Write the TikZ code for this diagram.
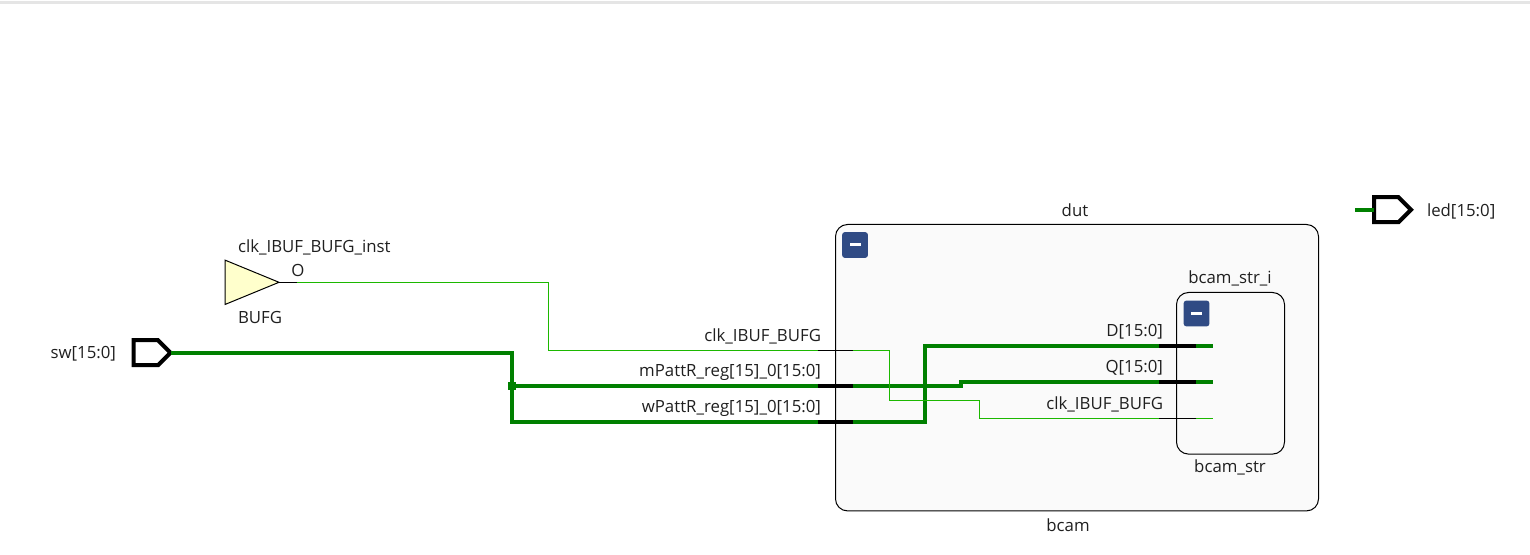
\documentclass[tikz,border=0pt]{standalone}
\usepackage{fontspec}
\setmainfont{Open Sans}
\usetikzlibrary{shapes.geometric,shapes.symbols}
\definecolor{netgreen}{HTML}{008000}
\definecolor{clkgreen}{HTML}{1CB800}
\definecolor{btnblue}{HTML}{304B84}
\definecolor{boxgrey}{HTML}{FAFAFA}
\definecolor{bufyellow}{HTML}{FFFFCC}
\tikzset{
  lbl/.style={inner sep=0pt,outer sep=0pt,font=\fontsize{8.4}{10}\selectfont,text=black!88},
  bus/.style={draw=netgreen,line width=2pt},
  clknet/.style={draw=clkgreen,line width=.5pt},
  buspin/.style={draw=black,line width=2pt},
  clkpin/.style={draw=black,line width=.5pt},
  port/.style={draw=black,line width=2pt,fill=white,signal,signal to=east,signal from=nowhere,anchor=west,
    signal pointer angle=90,minimum width=18.5pt,minimum height=12.5pt,inner sep=0pt,outer sep=0pt},
  hierbox/.style={draw=black,line width=.5pt,fill=boxgrey,rounded corners=6pt,anchor=north west,inner sep=0pt,outer sep=0pt},
  btn/.style={fill=btnblue,rounded corners=1.2pt,minimum width=12.8pt,minimum height=12.8pt,inner sep=0pt,outer sep=0pt},
  btnbar/.style={fill=white,minimum width=5.5pt,minimum height=1.5pt,inner sep=0pt,outer sep=0pt}
}
\begin{document}
\begin{tikzpicture}[x=.5pt,y=-.5pt]
  \useasboundingbox (0,0) rectangle (1530,555);
  \fill[black!10] (0,1) rectangle (1530,3.7);

  \node[hierbox,minimum width=241.5pt,minimum height=143.2pt] (dutbox) at (835.5,224.5) {};
  \node[hierbox,minimum width=54pt,minimum height=80.8pt] (strbox) at (1176.5,292.5) {};
  \node[btn] (dutbtn) at (855,245) {};
  \node[btnbar] (dutbar) at (855,245) {};
  \node[btn] (strbtn) at (1196.5,313.5) {};
  \node[btnbar] (strbar) at (1196.5,313.5) {};

  \node[port] (sw) at (133.5,352.7) {};
  \node[port] (led) at (1374,209.7) {};
  \node[isosceles triangle,isosceles triangle stretches,draw=black,line width=.5pt,fill=bufyellow,anchor=lower side,
    minimum width=22.2pt,minimum height=27pt,inner sep=0pt,outer sep=0pt] (bufg) at (225,282.3) {};

  \coordinate (ledin) at (1355,209.7);
  \coordinate (bufgpin) at (297,282.3);
  \coordinate (clkbend) at (548.5,350.5);
  \coordinate (swdrop) at (512,352.7);
  \coordinate (tap) at (512,385.7);
  \coordinate (dutclkL) at (817.5,350.5);
  \coordinate (dutclkR) at (853,350.5);
  \coordinate (mpattL) at (817.5,385.7);
  \coordinate (mpattR) at (853,385.7);
  \coordinate (wpattL) at (817.5,421.8);
  \coordinate (wpattR) at (853,421.8);
  \coordinate (dL) at (1159,345.8);
  \coordinate (dR) at (1195.5,345.8);
  \coordinate (dE) at (1212.5,345.8);
  \coordinate (qL) at (1159,381.7);
  \coordinate (qR) at (1195.5,381.7);
  \coordinate (qE) at (1212.5,381.7);
  \coordinate (cL) at (1159,418.5);
  \coordinate (cR) at (1195.5,418.5);
  \coordinate (cE) at (1213,418.5);

  \draw[bus] (sw.east) -- (swdrop) |- (wpattL);
  \draw[bus] (tap) -- (mpattL);
  \draw[bus] (mpattR) -| (960.5,381.7) -- (qL);
  \draw[bus] (wpattR) -| (925,345.8) -- (dL);
  \draw[bus] (qR) -- (qE);
  \draw[bus] (dR) -- (dE);
  \draw[bus] (ledin) -- (led.west);
  \fill[netgreen] (508,382) rectangle (516,390);

  \draw[clknet] (bufgpin) -| (clkbend) -- (dutclkL);
  \draw[clknet] (dutclkR) -| (889.5,400.5) -| (979,418.5) -- (cL);
  \draw[clknet] (cR) -- (cE);

  \draw[buspin] (mpattL) -- (mpattR);
  \draw[buspin] (wpattL) -- (wpattR);
  \draw[buspin] (dL) -- (dR);
  \draw[buspin] (qL) -- (qR);
  \draw[clkpin] (dutclkL) -- (dutclkR);
  \draw[clkpin] (cL) -- (cR);
  \draw[clkpin] (bufg.apex) -- (bufgpin);
  \draw[line width=.5pt] (strbox.north west) ++(0,12) -- ++(0,138);

  \node[lbl,anchor=east] (swlbl) at (116,354) {sw[15:0]};
  \node[lbl,anchor=west] (ledlbl) at (1427,211) {led[15:0]};
  \node[lbl,anchor=west] (instlbl) at (238,247) {clk\_IBUF\_BUFG\_inst};
  \node[lbl] (olbl) at (298,270.5) {O};
  \node[lbl,anchor=west] (bufglbl) at (238,317.5) {BUFG};
  \node[lbl] (dutlbl) at (1075,210) {dut};
  \node[lbl] (bcamlbl) at (1068,525) {bcam};
  \node[lbl] (strilbl) at (1230,278) {bcam\_str\_i};
  \node[lbl] (strlbl) at (1230,467) {bcam\_str};
  \node[lbl,anchor=east] (clkout) at (821,336) {clk\_IBUF\_BUFG};
  \node[lbl,anchor=east] (mpatt) at (821,372) {mPattR\_reg[15]\_0[15:0]};
  \node[lbl,anchor=east] (wpatt) at (821,408) {wPattR\_reg[15]\_0[15:0]};
  \node[lbl,anchor=east] (dlbl) at (1163,332) {D[15:0]};
  \node[lbl,anchor=east] (qlbl) at (1163,368) {Q[15:0]};
  \node[lbl,anchor=east] (clkin) at (1163,404) {clk\_IBUF\_BUFG};
\end{tikzpicture}
\end{document}
